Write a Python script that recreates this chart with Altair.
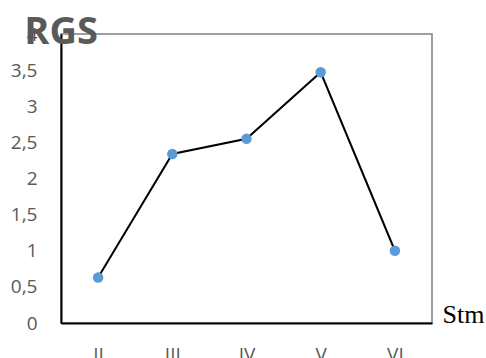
import altair as alt
import pandas as pd

# Stage categories and their RGS values
stages = ["II", "III", "IV", "V", "VI"]
rgs_values = [0.63, 2.34, 2.55, 3.47, 1.0]
y_ticks = [0, 0.5, 1, 1.5, 2, 2.5, 3, 3.5, 4]

df = pd.DataFrame({"stage": stages, "rgs": rgs_values})

label_font = "Open Sans"
label_color = "#595959"

x_enc = alt.X(
    "stage:N",
    sort=stages,
    scale=alt.Scale(type="point", padding=0.5),
    axis=alt.Axis(
        title="Stm",
        titleFont="Liberation Serif",
        titleFontSize=26,
        titleFontWeight="normal",
        titleColor="black",
        titleX=381,
        titleY=-1,
        titleAlign="left",
        titleBaseline="alphabetic",
        titleAngle=0,
        labelAngle=0,
        labelFont=label_font,
        labelFontSize=19,
        labelColor=label_color,
        labelPadding=22,
        labelBaseline="top",
        ticks=False,
        domainColor="black",
        domainWidth=2,
        grid=False,
    ),
)

y_enc = alt.Y(
    "rgs:Q",
    scale=alt.Scale(domain=[0, 4], nice=False),
    axis=alt.Axis(
        title=None,
        values=y_ticks,
        labelExpr="replace(toString(datum.value), '.', ',')",
        labelFont=label_font,
        labelFontSize=19,
        labelColor=label_color,
        labelPadding=24,
        ticks=False,
        domainColor="black",
        domainWidth=2,
        grid=False,
    ),
)

line = alt.Chart(df).mark_line(color="black", strokeWidth=2).encode(x=x_enc, y=y_enc)
points = alt.Chart(df).mark_point(
    filled=True, color="#5B9BD5", opacity=1, size=110
).encode(x=x_enc, y=y_enc)

chart = (
    alt.layer(line, points)
    .properties(
        width=371,
        height=289,
        autosize=alt.AutoSizeParams(type="none"),
        padding={"left": 61, "top": 34, "right": 54, "bottom": 35},
        title=alt.TitleParams(
            text="RGS",
            font="Open Sans",
            fontSize=38,
            fontWeight="bold",
            color="#595959",
            anchor="start",
            offset=0,
            dx=14,
            dy=27,
        ),
    )
    .configure_view(stroke="#7f7f7f", strokeWidth=1.5)
)

chart.save("out.html", embed_options={"renderer": "svg", "actions": False})
